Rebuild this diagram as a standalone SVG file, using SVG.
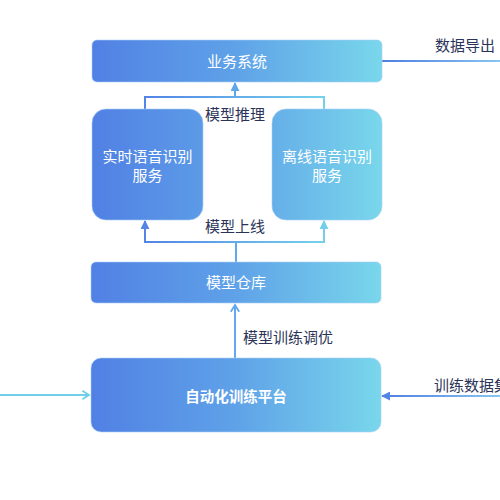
<svg xmlns="http://www.w3.org/2000/svg" width="500" height="500" viewBox="0 0 500 500">
<defs>
<linearGradient id="gNode" gradientUnits="userSpaceOnUse" x1="91" y1="0" x2="382" y2="0">
<stop offset="0" stop-color="#5180E4"/>
<stop offset="0.5" stop-color="#5FA2E8"/>
<stop offset="1" stop-color="#79D7EB"/>
</linearGradient>
<linearGradient id="gTop" gradientUnits="userSpaceOnUse" x1="145" y1="0" x2="325" y2="0">
<stop offset="0" stop-color="#5384E6"/>
<stop offset="1" stop-color="#75D2EB"/>
</linearGradient>
<linearGradient id="gOut" gradientUnits="userSpaceOnUse" x1="382" y1="0" x2="500" y2="0">
<stop offset="0" stop-color="#4F7EE2"/>
<stop offset="1" stop-color="#86C6F0"/>
</linearGradient>
<marker id="triBlue" viewBox="0 0 10 10" refX="9" refY="5" markerWidth="4.5" markerHeight="4.5" orient="auto" markerUnits="strokeWidth">
<path d="M0 0 L10 5 L0 10 Z" fill="#5384E6"/>
</marker>
<marker id="triMid" viewBox="0 0 10 10" refX="9" refY="5" markerWidth="4.5" markerHeight="4.5" orient="auto" markerUnits="strokeWidth">
<path d="M0 0 L10 5 L0 10 Z" fill="#5FA6EA"/>
</marker>
<marker id="triCyan" viewBox="0 0 10 10" refX="9" refY="5" markerWidth="4.5" markerHeight="4.5" orient="auto" markerUnits="strokeWidth">
<path d="M0 0 L10 5 L0 10 Z" fill="#72CFEA"/>
</marker>
<marker id="chevMid" viewBox="0 0 12 12" refX="10" refY="6" markerWidth="5" markerHeight="5" orient="auto" markerUnits="strokeWidth">
<path d="M2 1 L10 6 L2 11" fill="none" stroke="#62A8EC" stroke-width="2.2"/>
</marker>
<marker id="chevCyan" viewBox="0 0 12 12" refX="10" refY="6" markerWidth="5" markerHeight="5" orient="auto" markerUnits="strokeWidth">
<path d="M2 1 L10 6 L2 11" fill="none" stroke="#6FCFE8" stroke-width="2.2"/>
</marker>
</defs>
<style>
.node{fill:url(#gNode);stroke:#A9CFF5;stroke-opacity:0.6;stroke-width:1}
.nt{font-family:"Noto Sans CJK SC","Noto Sans",sans-serif;font-size:15px;fill:#FFFFFF;text-anchor:middle}
.lbl{font-family:"Noto Sans CJK SC","Noto Sans",sans-serif;font-size:15px;fill:#2B3458}
.c{fill:none;stroke-width:2}
</style>
<g id="connectors">
<path class="c" d="M145 109 V97 H324 V109" stroke="url(#gTop)"/>
<line class="c" x1="235" y1="97" x2="235" y2="83" stroke="#5FA6EA" marker-end="url(#triMid)"/>
<line class="c" x1="145" y1="242" x2="324" y2="242" stroke="url(#gTop)"/>
<line class="c" x1="145" y1="243" x2="145" y2="221" stroke="#5384E6" marker-end="url(#triBlue)"/>
<line class="c" x1="324" y1="243" x2="324" y2="221" stroke="#72CFEA" marker-end="url(#triCyan)"/>
<line class="c" x1="236" y1="262" x2="236" y2="242" stroke="#62A8EC"/>
<line class="c" x1="235" y1="358" x2="235" y2="305" stroke="#62A8EC" marker-end="url(#chevMid)"/>
<line class="c" x1="382" y1="61" x2="500" y2="61" stroke="url(#gOut)"/>
<line class="c" x1="500" y1="396" x2="382" y2="396" stroke="url(#gOut)" marker-end="url(#triBlue)"/>
<line class="c" x1="0" y1="395" x2="89" y2="395" stroke="#6FCFE8" marker-end="url(#chevCyan)"/>
</g>
<g id="labels">
<text class="lbl" x="205" y="120">模型推理</text>
<text class="lbl" x="205" y="232">模型上线</text>
<text class="lbl" x="243" y="343">模型训练调优</text>
<text class="lbl" x="435" y="51">数据导出</text>
<text class="lbl" x="434" y="391">训练数据集</text>
</g>
<g id="biz">
<rect class="node" x="92" y="40" width="290" height="42" rx="5"/>
<text class="nt" x="237" y="66.5">业务系统</text>
</g>
<g id="realtime">
<rect class="node" x="92" y="109" width="111" height="111" rx="14"/>
<text class="nt" x="147.5" y="162">实时语音识别</text>
<text class="nt" x="147.5" y="181">服务</text>
</g>
<g id="offline">
<rect class="node" x="272" y="109" width="110" height="111" rx="14"/>
<text class="nt" x="327" y="162">离线语音识别</text>
<text class="nt" x="327" y="181">服务</text>
</g>
<g id="repo">
<rect class="node" x="91" y="262" width="290" height="41" rx="5"/>
<text class="nt" x="236" y="288">模型仓库</text>
</g>
<g id="train">
<rect class="node" x="91" y="358" width="290" height="74" rx="10"/>
<text class="nt" x="236" y="402" font-weight="bold" style="font-size:14.5px">自动化训练平台</text>
</g>
</svg>
